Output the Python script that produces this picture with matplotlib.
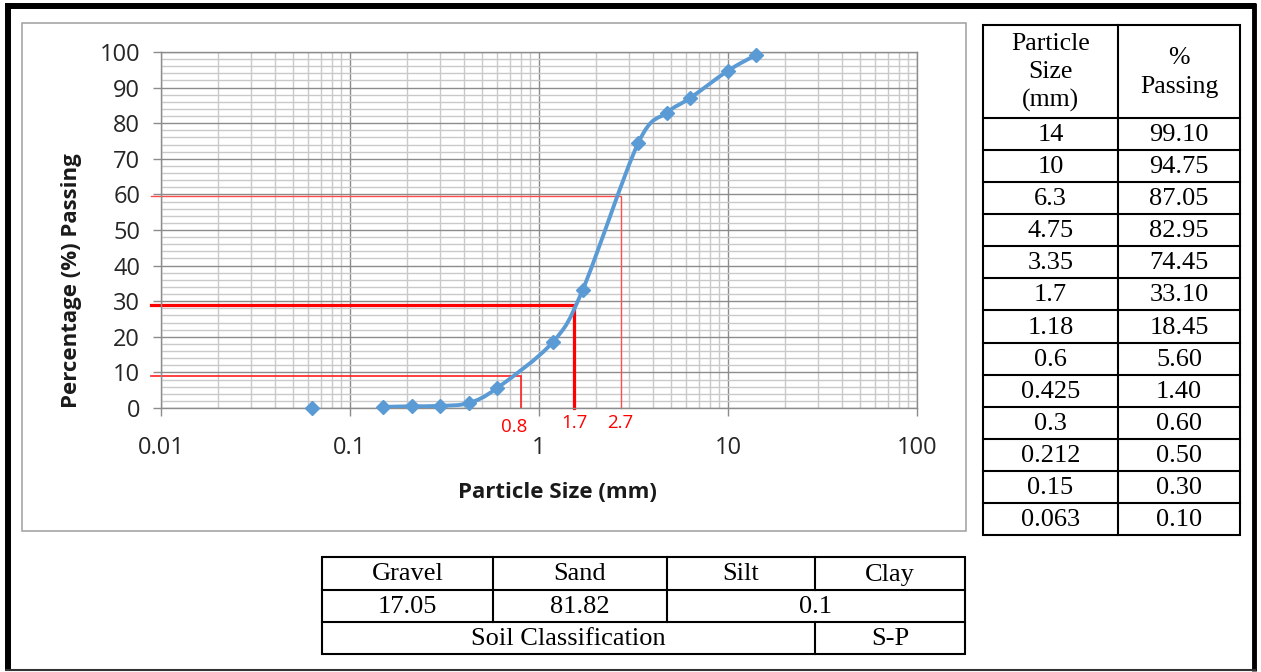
import numpy as np
import matplotlib
matplotlib.use("Agg")
import matplotlib.pyplot as plt
from matplotlib.path import Path
from matplotlib.patches import PathPatch, Rectangle
from matplotlib.ticker import FixedLocator, NullFormatter, LogLocator

# ---------------- data ----------------
size_labels = ["14", "10", "6.3", "4.75", "3.35", "1.7", "1.18", "0.6", "0.425", "0.3", "0.212", "0.15", "0.063"]
sizes_mm = [14, 10, 6.3, 4.75, 3.35, 1.7, 1.18, 0.6, 0.425, 0.3, 0.212, 0.15, 0.063]
passing = [99.10, 94.75, 87.05, 82.95, 74.45, 33.10, 18.45, 5.60, 1.40, 0.60, 0.50, 0.30, 0.10]

d_labels = ["0.8", "1.7", "2.7"]          # D10, D30, D60 annotations
d_size = [0.8, 1.53, 2.7]                 # where the red guide lines are drawn
d_pct = [9, 29, 59.5]

xtick_vals = [0.01, 0.1, 1, 10, 100]
xtick_labels = ["0.01", "0.1", "1", "10", "100"]
ytick_vals = list(range(0, 101, 10))

summary_head = ["Gravel", "Sand", "Silt", "Clay"]
summary_vals = ["17.05", "81.82", "0.1"]
class_label = "Soil Classification"
class_value = "S-P"
table_head = ["Particle\nSize\n(mm)", "%\nPassing"]

# ---------------- figure ----------------
W, H = 1261, 672
DPI = 100
fig = plt.figure(figsize=(W / DPI, H / DPI), dpi=DPI)
fig.patch.set_facecolor("white")

def fx(px):
    return px / W

def fy(py):
    return 1 - py / H

# overlay in pixel coordinates for frames and tables
ov = fig.add_axes([0, 0, 1, 1], zorder=0)
ov.set_xlim(0, W)
ov.set_ylim(H, 0)
ov.axis("off")

# outer frame
ov.plot([7.5, 7.5], [3, 671], color="black", lw=4.3, solid_capstyle="butt")
ov.plot([4.5, 1256], [6, 6], color="black", lw=4.3, solid_capstyle="butt")
ov.plot([1253.5, 1253.5], [3, 671], color="black", lw=3.5, solid_capstyle="butt")
ov.plot([4.5, 1256], [670, 670], color="#333333", lw=1.5, solid_capstyle="butt")

# chart area frame
ov.add_patch(Rectangle((22, 23), 944, 508, fill=False, edgecolor="#a6a6a6", lw=1.2))

serif = "Liberation Serif"
tcol = "black"
lw_t = 1.5
fs_tab = 19

# right table
tx0, tx1, txm = 983, 1240, 1118
ty0, thead = 25, 118
row_h = (535 - thead) / len(size_labels)
ty_end = thead + row_h * len(size_labels)
ov.add_patch(Rectangle((tx0, ty0), tx1 - tx0, ty_end - ty0, fill=False, edgecolor=tcol, lw=lw_t))
ov.plot([txm, txm], [ty0, ty_end], color=tcol, lw=lw_t)
ov.plot([tx0, tx1], [thead, thead], color=tcol, lw=lw_t)
ov.text((tx0 + txm) / 2, (ty0 + thead) / 2 + 1, table_head[0], ha="center", va="center",
        family=serif, fontsize=fs_tab - 0.5, linespacing=1.32)
ov.text((txm + tx1) / 2, (ty0 + thead) / 2 + 1, table_head[1], ha="center", va="center",
        family=serif, fontsize=fs_tab - 0.5, linespacing=1.42)
for i, (s, p) in enumerate(zip(size_labels, passing)):
    yt = thead + row_h * i
    if i > 0:
        ov.plot([tx0, tx1], [yt, yt], color=tcol, lw=lw_t)
    yc = yt + row_h / 2 + 1
    ov.text((tx0 + txm) / 2, yc, s, ha="center", va="center", family=serif, fontsize=fs_tab)
    ov.text((txm + tx1) / 2, yc, f"{p:.2f}", ha="center", va="center", family=serif, fontsize=fs_tab)

# bottom summary table
bx = [322, 493, 667, 815, 965]
by = [557, 590, 622, 654]
ov.add_patch(Rectangle((bx[0], by[0]), bx[-1] - bx[0], by[-1] - by[0], fill=False, edgecolor=tcol, lw=lw_t))
ov.plot([bx[0], bx[-1]], [by[1], by[1]], color=tcol, lw=lw_t)
ov.plot([bx[0], bx[-1]], [by[2], by[2]], color=tcol, lw=lw_t)
ov.plot([bx[1], bx[1]], [by[0], by[2]], color=tcol, lw=lw_t)
ov.plot([bx[2], bx[2]], [by[0], by[2]], color=tcol, lw=lw_t)
ov.plot([bx[3], bx[3]], [by[0], by[1]], color=tcol, lw=lw_t)
ov.plot([bx[3], bx[3]], [by[2], by[3]], color=tcol, lw=lw_t)
for j, h in enumerate(summary_head):
    ov.text((bx[j] + bx[j + 1]) / 2, (by[0] + by[1]) / 2 + 1, h, ha="center", va="center", family=serif, fontsize=fs_tab)
ov.text((bx[0] + bx[1]) / 2, (by[1] + by[2]) / 2 + 1, summary_vals[0], ha="center", va="center", family=serif, fontsize=fs_tab)
ov.text((bx[1] + bx[2]) / 2, (by[1] + by[2]) / 2 + 1, summary_vals[1], ha="center", va="center", family=serif, fontsize=fs_tab)
ov.text((bx[2] + bx[4]) / 2, (by[1] + by[2]) / 2 + 1, summary_vals[2], ha="center", va="center", family=serif, fontsize=fs_tab)
ov.text((bx[0] + bx[3]) / 2, (by[2] + by[3]) / 2 + 1, class_label, ha="center", va="center", family=serif, fontsize=fs_tab)
ov.text((bx[3] + bx[4]) / 2, (by[2] + by[3]) / 2 + 1, class_value, ha="center", va="center", family=serif, fontsize=fs_tab)

# ---------------- chart ----------------
sans = "Open Sans"
L, R, T, B = 161, 917, 52, 408
ax = fig.add_axes([fx(L), fy(B), fx(R - L), (B - T) / H], zorder=1)
ax.patch.set_alpha(0)
ax.set_xscale("log")
ax.set_xlim(0.01, 100)
ax.set_ylim(0, 100)

ax.xaxis.set_major_locator(FixedLocator(xtick_vals))
ax.set_xticklabels(xtick_labels)
ax.xaxis.set_minor_locator(LogLocator(base=10, subs=np.arange(2, 10), numticks=20))
ax.xaxis.set_minor_formatter(NullFormatter())
ax.set_yticks(ytick_vals)
ax.set_yticks(np.arange(0, 101, 2), minor=True)

major_c = "#8c8c8c"
minor_c = "#c9c9c9"
ax.grid(which="minor", color=minor_c, lw=1.0, zorder=0)
ax.grid(which="major", color=major_c, lw=1.0, zorder=0)
ax.set_axisbelow(True)
for sp in ax.spines.values():
    sp.set_color(major_c)
    sp.set_linewidth(1.0)
ax.tick_params(axis="both", which="major", length=6, width=1, color=major_c, direction="out",
               labelsize=17, labelcolor="#262626")
ax.tick_params(axis="x", which="major", pad=14)
ax.tick_params(axis="y", which="major", pad=9)
ax.tick_params(which="minor", length=0)
for lab in ax.get_xticklabels() + ax.get_yticklabels():
    lab.set_family(sans)

ax.set_xlabel("Particle Size (mm)", family=sans, fontsize=16, fontweight="bold", color="#1a1a1a",
              va="center", ha="center")
ax.xaxis.set_label_coords((557 - L) / (R - L), -(493 - B) / (B - T))
ax.set_ylabel("Percentage (%) Passing", family=sans, fontsize=16, fontweight="bold", color="#1a1a1a",
              va="center", ha="center")
ax.yaxis.set_label_coords((72 - L) / (R - L), (B - 281) / (B - T))

# smoothed curve (Excel style) through the sieve points, drawn in display-like space
blue = "#5B9BD5"
order = np.argsort(sizes_mm)
xs = np.array(sizes_mm, dtype=float)[order]
ys = np.array(passing, dtype=float)[order]
line_mask = xs >= 0.15
cx, cy = xs[line_mask], ys[line_mask]
su, sv = (R - L) / 4.0, (B - T) / 100.0
P = np.column_stack([np.log10(cx) * su, cy * sv])
n = len(P)
verts = [P[0]]
codes = [Path.MOVETO]
for i in range(n - 1):
    p0 = P[i - 1] if i > 0 else P[i]
    p3 = P[i + 2] if i + 2 < n else P[i + 1]
    c1 = P[i] + (P[i + 1] - p0) / 6.0
    c2 = P[i + 1] - (p3 - P[i]) / 6.0
    verts += [c1, c2, P[i + 1]]
    codes += [Path.CURVE4] * 3
verts = np.array(verts)
data_verts = np.column_stack([10 ** (verts[:, 0] / su), verts[:, 1] / sv])
ax.add_patch(PathPatch(Path(data_verts, codes), fill=False, edgecolor=blue, lw=2.8, zorder=3,
                       capstyle="round", joinstyle="round"))
ax.plot(xs, ys, linestyle="none", marker="D", ms=7.5, color=blue, mec=blue, zorder=4, clip_on=False)

# red guide lines
x_left = 0.01 * 10 ** (-10 / su)
red_w = [1.2, 2.3, 1.0]
red_c = ["#ff2020", "#ff0000", "#ff4d4d"]
for xv, yv, w, c in zip(d_size, d_pct, red_w, red_c):
    ax.plot([x_left, xv, xv], [yv, yv, 0], color=c, lw=w, zorder=2.5, clip_on=False,
            solid_joinstyle="miter")
label_off = [(-6, -19), (1, -15), (0, -15)]
for xv, lab, off in zip(d_size, d_labels, label_off):
    ax.annotate(lab, xy=(xv, 0), xytext=off, textcoords="offset pixels", ha="center", va="center",
                color="#ff0000", fontsize=13.5, family=sans)

fig.savefig("out.png", dpi=DPI, facecolor="white")
